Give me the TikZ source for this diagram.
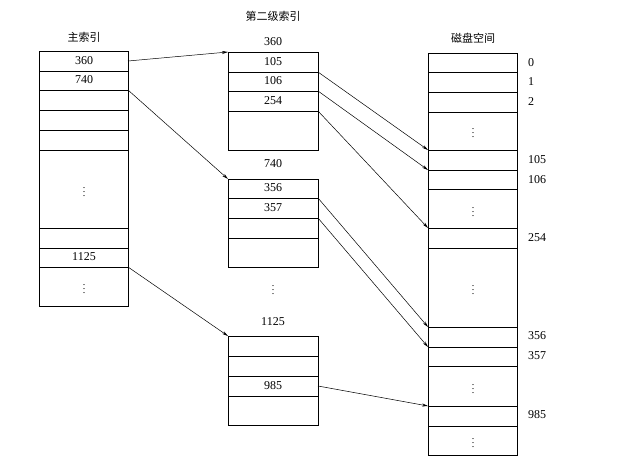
\documentclass[tikz,border=0pt]{standalone}
\usepackage{fontspec}
\setmainfont{Liberation Serif}
\newfontfamily\cjk{Noto Sans CJK SC}
\usetikzlibrary{arrows.meta}
\begin{document}
\begin{tikzpicture}[x=1pt,y=-1pt,
  box/.style={draw,line width=0.8pt},
  lbl/.style={font=\fontsize{12}{12}\selectfont,inner sep=0pt},
  clbl/.style={font=\fontsize{11}{11}\selectfont\cjk,inner sep=0pt},
  arr/.style={draw,line width=0.5pt,-{Stealth[length=6pt,width=3pt]}},
  vd/.style={font=\fontsize{10}{10}\selectfont,inner sep=0pt}]
\useasboundingbox (0,0) rectangle (618,468);
\newcommand{\vdts}{$\vdots$}
% main index
\node[clbl] (tmain) at (84,37) {主索引};
\draw[box] (39,51) rectangle (128,306);
\foreach \y in {71,90,110,130,150,228,248,267} \draw[box] (39,\y) -- (128,\y);
\node[lbl] (m1) at (84,61) {360};
\node[lbl] (m2) at (84,80) {740};
\node[lbl] (m3) at (84,257) {1125};
\node[vd] (md1) at (84,189) {\vdts};
\node[vd] (md2) at (84,286) {\vdts};
% second index
\node[clbl] (tsec) at (273,16) {第二级索引};
\node[lbl] (s1t) at (273,42) {360};
\draw[box] (228,52) rectangle (318,150);
\foreach \y in {72,91,111} \draw[box] (228,\y) -- (318,\y);
\node[lbl] (a1) at (273,62) {105};
\node[lbl] (a2) at (273,81) {106};
\node[lbl] (a3) at (273,101) {254};
\node[lbl] (s2t) at (273,164) {740};
\draw[box] (228,179) rectangle (318,267);
\foreach \y in {198,218,238} \draw[box] (228,\y) -- (318,\y);
\node[lbl] (b1) at (273,188) {356};
\node[lbl] (b2) at (273,208) {357};
\node[vd] (sd) at (273,287) {\vdts};
\node[lbl] (s3t) at (273,322) {1125};
\draw[box] (228,336) rectangle (318,425);
\foreach \y in {356,376,396} \draw[box] (228,\y) -- (318,\y);
\node[lbl] (c1) at (273,386) {985};
% disk
\node[clbl] (tdisk) at (473,38) {磁盘空间};
\draw[box] (428,53) rectangle (517,455);
\foreach \y in {72,92,112,150,170,189,228,248,327,347,366,406,426} \draw[box] (428,\y) -- (517,\y);
\foreach \y in {130,209,287,386,440} \node[vd] at (473,\y) {\vdts};
\foreach \t/\y in {0/63,1/82,2/102,105/160,106/180,254/238,356/336,357/356,985/415}
  \node[lbl,anchor=west] at (528,\y) {\t};
% connector endpoints
\coordinate (pm1) at (128,61); \coordinate (qm1) at (228,52);
\coordinate (pm2) at (128,90); \coordinate (qm2) at (228,179);
\coordinate (pm3) at (128,267); \coordinate (qm3) at (228,336);
\coordinate (pa1) at (318,72); \coordinate (qa1) at (428,150);
\coordinate (pa2) at (318,91); \coordinate (qa2) at (428,170);
\coordinate (pa3) at (318,111); \coordinate (qa3) at (428,228);
\coordinate (pb1) at (318,198); \coordinate (qb1) at (428,327);
\coordinate (pb2) at (318,218); \coordinate (qb2) at (428,347);
\coordinate (pc1) at (318,386); \coordinate (qc1) at (428,406);
\foreach \n in {m1,m2,m3,a1,a2,a3,b1,b2,c1} \draw[arr] (p\n) -- (q\n);
\end{tikzpicture}
\end{document}
